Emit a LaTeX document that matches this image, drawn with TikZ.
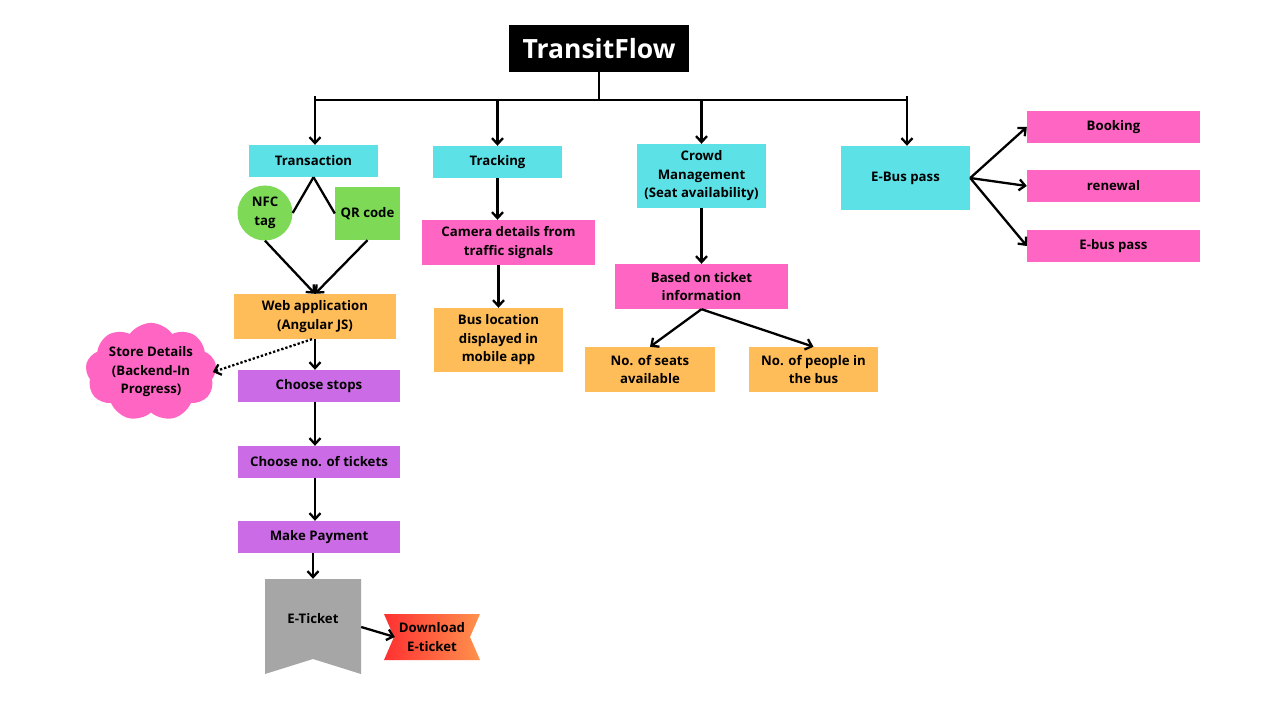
\documentclass[tikz,border=0pt]{standalone}
\usepackage{fontspec}
\setmainfont{Open Sans}
\usetikzlibrary{arrows.meta,shapes.symbols}

\definecolor{cyanbox}{HTML}{5CE1E6}
\definecolor{pinkbox}{HTML}{FF66C4}
\definecolor{greenbox}{HTML}{7ED957}
\definecolor{orangebox}{HTML}{FFBD59}
\definecolor{purplebox}{HTML}{CB6CE6}
\definecolor{ticketgray}{HTML}{A6A6A6}
\definecolor{dlred}{HTML}{FF3131}
\definecolor{dlorange}{HTML}{FF914D}

\newcommand{\boxfont}{\fontsize{13.2}{18.5}\selectfont\bfseries}

\tikzset{
	box/.style={rectangle, inner sep=2pt, align=center, font=\boxfont, text=black},
	cyanBox/.style={box, fill=cyanbox, minimum width=129pt},
	pinkBox/.style={box, fill=pinkbox, minimum width=173pt},
	orangeBox/.style={box, fill=orangebox},
	purpleBox/.style={box, fill=purplebox, minimum width=162pt, minimum height=32pt},
	flow/.style={line width=2.3pt, -{Straight Barb[length=6pt,width=11pt,line width=2.3pt]}},
	plain/.style={line width=2.3pt}
}

\begin{document}
\begin{tikzpicture}[x=1pt, y=-1pt]
	\useasboundingbox[fill=white] (0,0) rectangle (1266,719);

	% title and main bar
	\node[rectangle, fill=black, text=white, minimum width=180pt, minimum height=47pt, font=\fontsize{26.5}{30}\selectfont\bfseries](title) at (599,48.5){TransitFlow};
	\coordinate (barM) at (599,100);
	\coordinate (barL) at (315,96);
	\coordinate (barR) at (907,96);

	% first row
	\node[cyanBox, minimum height=32pt](transaction) at (313.5,161){Transaction};
	\node[cyanBox, minimum height=32pt](tracking) at (497.5,162){Tracking};
	\node[cyanBox, minimum height=64pt](crowd) at (701.5,176){Crowd\\Management\\(Seat availability)};
	\node[cyanBox, minimum height=64pt](ebus) at (905.5,178){E-Bus pass};

	% e-bus pass options
	\node[pinkBox, minimum height=32pt](booking) at (1113.5,127){Booking};
	\node[pinkBox, minimum height=32pt](renewal) at (1113.5,186){renewal};
	\node[pinkBox, minimum height=32pt](ebuspass) at (1113.5,246){E-bus pass};

	% transaction branch
	\node[circle, fill=greenbox, minimum size=55pt, inner sep=0pt, align=center, font=\boxfont](nfc) at (265,213){NFC\\tag};
	\node[box, fill=greenbox, minimum width=65pt, minimum height=53pt](qr) at (367.5,213.5){QR code};
	\node[orangeBox, minimum width=162pt, minimum height=45pt](webapp) at (315,316.5){Web application\\(Angular JS)};
	\node[cloud, cloud puffs=9, cloud puff arc=110, aspect=1.45, fill=pinkbox, minimum width=131pt, minimum height=94pt, inner sep=0pt, align=center, font=\boxfont](store) at (151,372){Store Details\\(Backend-In\\Progress)};
	\node[purpleBox](stops) at (319,386){Choose stops};
	\node[purpleBox](tickets) at (319,462){Choose no. of tickets};
	\node[purpleBox](payment) at (319,537){Make Payment};

	% e-ticket banner and download ribbon
	\fill[ticketgray] (265,579) -- (361,579) -- (361,674) -- (313,659) -- (265,674) -- cycle;
	\node[box, minimum width=96pt, minimum height=80pt](eticket) at (313,619){E-Ticket};
	\shade[left color=dlred, right color=dlorange] (384,614) -- (480,614) -- (470,637) -- (480,660) -- (384,660) -- (394,637) -- cycle;
	\node[box, minimum width=96pt, minimum height=46pt](download) at (432,637){Download\\E-ticket};

	% tracking branch
	\node[pinkBox, minimum height=45pt](camera) at (508.5,242.5){Camera details from\\traffic signals};
	\node[orangeBox, minimum width=129pt, minimum height=64pt](buslocation) at (498.5,340){Bus location\\displayed in\\mobile app};

	% crowd branch
	\node[pinkBox, minimum height=45pt](based) at (701.5,286.5){Based on ticket\\information};
	\node[orangeBox, minimum width=130pt, minimum height=45pt](seats) at (650,369.5){No. of seats\\available};
	\node[orangeBox, minimum width=129pt, minimum height=45pt](people) at (813.5,369.5){No. of people in\\the bus};

	% connectors
	\draw[plain] (title.south) -- (barM);
	\draw[plain] (barL |- barM) -- (barR |- barM);
	\draw[flow] (barL) -- (barL |- transaction.north);
	\draw[flow] (barM -| tracking.south) -- (tracking.north);
	\draw[flow] (barM -| crowd.south) -- (crowd.north);
	\draw[flow] (barR) -- (barR |- ebus.north);

	\draw[flow] (ebus.east) -- (booking.west);
	\draw[flow] (ebus.east) -- (renewal.west);
	\draw[flow] (ebus.east) -- (ebuspass.west);

	\draw[plain] (transaction.south) -- (nfc.east);
	\draw[plain] (transaction.south) -- (qr.west);
	\draw[flow] (nfc.south) -- (webapp.north);
	\draw[flow] (qr.south) -- (webapp.north);
	\draw[line width=2.3pt, dotted, -{Straight Barb[length=6pt,width=11pt,line width=2.3pt]}] ([xshift=-3pt]webapp.south) -- ([xshift=-3pt]store.east);
	\draw[flow] (webapp.south) -- (webapp.south |- stops.north);
	\draw[flow] (webapp.south |- stops.south) -- (webapp.south |- tickets.north);
	\draw[flow] (webapp.south |- tickets.south) -- (webapp.south |- payment.north);
	\draw[flow] (eticket.north |- payment.south) -- (eticket.north);
	\draw[flow] ([yshift=-8pt]eticket.east) -- ([xshift=11pt]download.west);

	\draw[flow] (tracking.south) -- (tracking.south |- camera.north);
	\draw[flow] (buslocation.north |- camera.south) -- (buslocation.north);

	\draw[flow] (crowd.south) -- (based.north);
	\draw[flow] (based.south) -- (seats.north);
	\draw[flow] (based.south) -- (people.north);
\end{tikzpicture}
\end{document}
